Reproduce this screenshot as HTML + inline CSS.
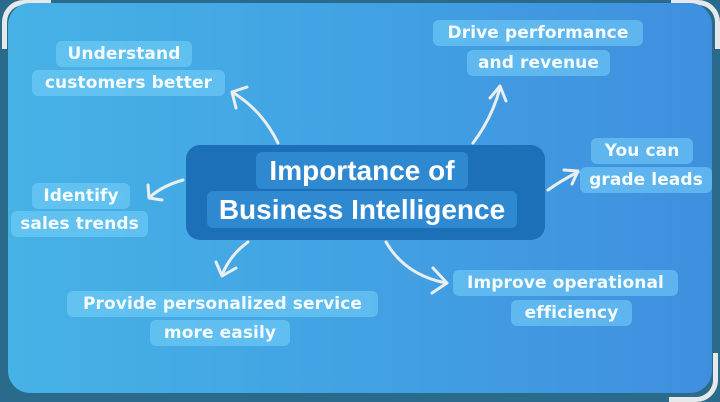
<!DOCTYPE html>
<html><head><meta charset="utf-8"><style>
body{margin:0;width:720px;height:402px;overflow:hidden;background:#2a6a8a;position:relative;font-family:"DejaVu Sans","Liberation Sans",sans-serif}
.panel{position:absolute;left:8px;top:3px;width:704px;height:390px;border-radius:22px;background:linear-gradient(90deg,#46b2e6 0%,#42a2e3 50%,#3f8fdf 100%)}
.l{position:absolute;background:rgba(120,210,250,0.55);color:#f4fbff;font-size:17px;font-weight:bold;line-height:26px;text-align:center;border-radius:6px;white-space:nowrap;letter-spacing:0.1px}
.c{position:absolute;left:186px;top:145px;width:359px;height:95px;background:#1c70b8;border-radius:14px}
.t{position:absolute;background:#2f89d0;color:#fff;font-family:"Liberation Sans",sans-serif;font-weight:bold;font-size:28px;line-height:37px;text-align:center;border-radius:6px;white-space:nowrap}
.corner{position:absolute;border:5px solid #e6e9ea}
</style></head><body>
<div class="corner" style="left:2px;top:0;width:44px;height:44px;border-right:none;border-bottom:none;border-radius:22px 0 0 0"></div>
<div class="corner" style="right:0;top:0;width:44px;height:44px;border-left:none;border-bottom:none;border-radius:0 22px 0 0"></div>
<div class="corner" style="right:2px;bottom:0;width:44px;height:44px;border-left:none;border-top:none;border-radius:0 0 22px 0"></div>
<div class="panel"></div>
<svg style="position:absolute;left:0;top:0" width="720" height="402" fill="none" stroke="#e9eef0" stroke-width="3" stroke-linecap="round" stroke-linejoin="round">
<path d="M278 143 Q262 110 232 92"/><path d="M247 87 L232 92 L236 108"/>
<path d="M473 143 Q492 118 500 88"/><path d="M490 98 L500 86 L506 101"/>
<path d="M548 190 Q562 180 578 172"/><path d="M564 170 L578 171 L572 184"/>
<path d="M183 180 Q162 186 150 197"/><path d="M148 185 L149 198 L162 200"/>
<path d="M248 242 Q230 255 222 275"/><path d="M216 262 L222 276 L236 268"/>
<path d="M386 242 Q405 275 446 283"/><path d="M433 268 L447 283 L432 293"/>
</svg>
<div class="l" style="left:56px;top:41px;width:136px">Understand</div>
<div class="l" style="left:32px;top:70px;width:193px">customers better</div>
<div class="l" style="left:433px;top:20px;width:210px">Drive performance</div>
<div class="l" style="left:467px;top:50px;width:143px">and revenue</div>
<div class="l" style="left:591px;top:138px;width:102px">You can</div>
<div class="l" style="left:580px;top:167px;width:132px">grade leads</div>
<div class="l" style="left:32px;top:183px;width:98px">Identify</div>
<div class="l" style="left:11px;top:211px;width:137px">sales trends</div>
<div class="l" style="left:453px;top:270px;width:225px">Improve operational</div>
<div class="l" style="left:511px;top:300px;width:121px">efficiency</div>
<div class="l" style="left:67px;top:291px;width:311px">Provide personalized service</div>
<div class="l" style="left:150px;top:320px;width:140px">more easily</div>
<div class="c"></div>
<div class="t" style="left:256px;top:152px;width:212px">Importance of</div>
<div class="t" style="left:207px;top:191px;width:310px">Business Intelligence</div>
</body></html>
